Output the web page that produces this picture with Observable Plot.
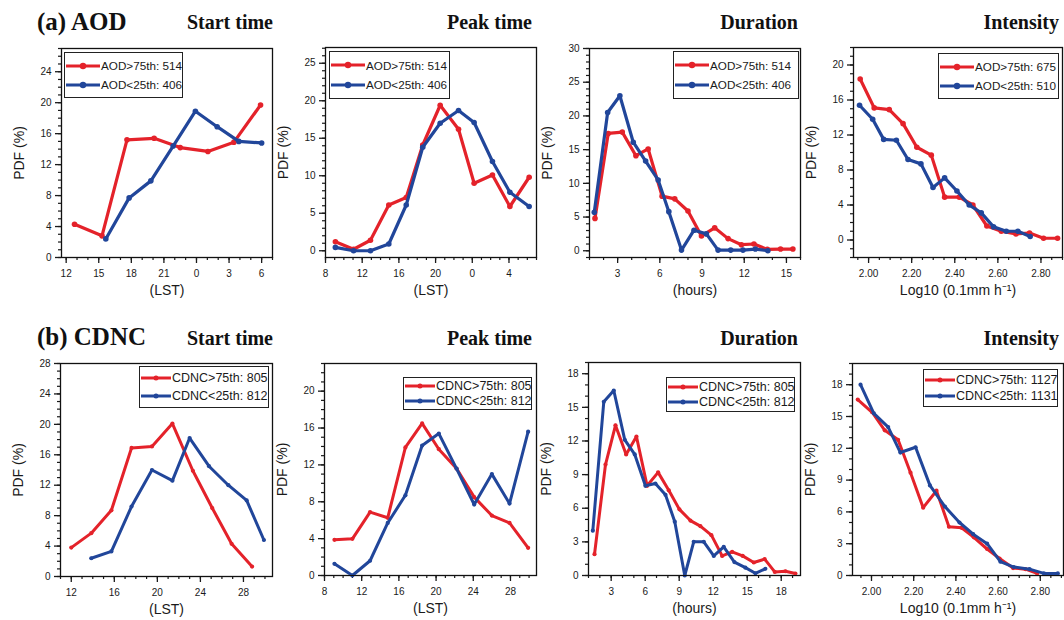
<!DOCTYPE html>
<html>
<head>
<meta charset="utf-8">
<script src="https://cdn.jsdelivr.net/npm/d3@7"></script>
<script src="https://cdn.jsdelivr.net/npm/@observablehq/plot@0.6"></script>
<style>
  body { margin: 0; background: #fff; }
  #chart { position: relative; width: 1064px; height: 620px; overflow: hidden; background: #fff;
           font-family: "Liberation Sans", Arial, sans-serif; }
  .panel { position: absolute; }
  .box { position: absolute; border: 1px solid #111; box-sizing: border-box; pointer-events: none; }
  .legend { position: absolute; border: 1px solid #222; background: #fff; box-sizing: border-box;
            display: flex; flex-direction: column; justify-content: space-evenly; color: #1a1a1a; }
  .legend .row { display: flex; align-items: center; white-space: nowrap; }
  .legend svg { display: block; flex: none; }
  .title { position: absolute; line-height: 1; white-space: nowrap; color: #111;
           font-family: "Liberation Serif", "Times New Roman", serif; font-weight: bold; }
</style>
</head>
<body>
<div id="chart"></div>
<script>
// ---------------- data ----------------
// (a) AOD — Start time (LST, hours continued past 24)
const aodStartHiX = [12.77, 15.3, 17.6, 20.1, 22.5, 25.05, 27.45, 29.9];
const aodStartHiY = [4.3, 2.8, 15.2, 15.4, 14.2, 13.7, 14.9, 19.7];
const aodStartLoX = [15.65, 17.8, 19.8, 21.85, 23.9, 25.9, 27.9, 30.0];
const aodStartLoY = [2.4, 7.7, 9.9, 14.4, 18.9, 16.9, 15.0, 14.8];
// (a) AOD — Peak time
const aodPeakX   = [9.08, 11.06, 12.9, 14.9, 16.8, 18.6, 20.5, 22.5, 24.2, 26.2, 28.1, 30.2];
const aodPeakHiY = [1.2, 0.2, 1.4, 6.1, 7.1, 14.1, 19.4, 16.2, 9.0, 10.1, 5.9, 9.8];
const aodPeakLoY = [0.45, 0, 0, 0.9, 6.1, 13.8, 17.0, 18.7, 17.1, 11.9, 7.8, 5.9];
// (a) AOD — Duration (hours)
const aodDurHiX = [1.39, 2.33, 3.33, 4.30, 5.17, 6.16, 7.06, 8.0, 8.96, 9.9, 10.85, 11.8, 12.69, 13.64, 14.58, 15.46];
const aodDurHiY = [4.8, 17.4, 17.6, 14.1, 15.1, 8.1, 7.7, 5.9, 2.2, 3.4, 1.8, 0.9, 1.0, 0.2, 0.25, 0.25];
const aodDurLoX = [1.34, 2.29, 3.16, 4.11, 4.99, 5.88, 6.64, 7.54, 8.43, 9.31, 10.14, 11.04, 11.91, 12.79, 13.68];
const aodDurLoY = [5.7, 20.5, 23.0, 16.1, 13.3, 10.5, 5.8, 0.1, 3.05, 2.5, 0.1, 0.1, 0.1, 0.25, 0];
// (a) AOD — Intensity (log10 0.1 mm/h)
const aodIntHiX = [1.961, 2.026, 2.096, 2.160, 2.224, 2.291, 2.353, 2.421, 2.484, 2.549, 2.616, 2.684, 2.747, 2.812, 2.877];
const aodIntHiY = [18.4, 15.1, 14.9, 13.3, 10.6, 9.7, 4.9, 4.9, 4.0, 1.6, 1.0, 0.7, 0.8, 0.2, 0.2];
const aodIntLoX = [1.958, 2.019, 2.070, 2.129, 2.183, 2.243, 2.299, 2.353, 2.410, 2.467, 2.523, 2.580, 2.639, 2.693, 2.750];
const aodIntLoY = [15.4, 13.8, 11.5, 11.4, 9.2, 8.7, 6.0, 7.1, 5.6, 4.0, 3.1, 1.5, 1.0, 1.0, 0.4];
// (b) CDNC — Start time
const cdncStartHiX = [12.0, 13.86, 15.73, 17.6, 19.5, 21.4, 23.3, 25.1, 26.9, 28.8];
const cdncStartHiY = [3.8, 5.7, 8.7, 16.9, 17.1, 20.1, 13.9, 9.0, 4.3, 1.3];
const cdncStartLoX = [13.86, 15.73, 17.6, 19.5, 21.4, 23.0, 24.8, 26.6, 28.3, 29.9];
const cdncStartLoY = [2.4, 3.3, 9.2, 14.0, 12.6, 18.2, 14.5, 12.0, 10.0, 4.8];
// (b) CDNC — Peak time
const cdncPeakX   = [9.07, 11.0, 12.9, 14.8, 16.7, 18.5, 20.3, 22.2, 24.1, 26.0, 27.9, 29.9];
const cdncPeakHiY = [3.87, 3.98, 6.87, 6.26, 13.9, 16.5, 13.7, 11.6, 8.5, 6.5, 5.7, 3.0];
const cdncPeakLoY = [1.27, 0, 1.6, 5.7, 8.7, 14.1, 15.4, 11.6, 7.7, 11.0, 7.8, 15.6];
// (b) CDNC — Duration
const cdncDurHiX = [1.53, 2.5, 3.38, 4.32, 5.23, 6.17, 7.14, 8.08, 9.02, 9.99, 10.87, 11.84, 12.79, 13.67, 14.6, 15.58, 16.54, 17.43, 18.37, 19.25];
const cdncDurHiY = [1.9, 9.9, 13.4, 10.8, 12.4, 8.0, 9.2, 7.6, 5.9, 4.9, 4.4, 3.6, 1.75, 2.1, 1.75, 1.16, 1.46, 0.32, 0.38, 0.18];
const cdncDurLoX = [1.38, 2.35, 3.23, 4.2, 5.08, 6.02, 6.9, 7.79, 8.61, 9.49, 10.28, 11.17, 12.05, 12.93, 13.87, 14.84, 15.72, 16.6];
const cdncDurLoY = [4.0, 15.5, 16.5, 12.1, 10.8, 8.0, 8.2, 7.2, 4.8, 0, 3.0, 3.0, 1.75, 2.56, 1.2, 0.7, 0.2, 0.6];
// (b) CDNC — Intensity
const cdncIntHiX = [1.935, 2.003, 2.063, 2.126, 2.185, 2.245, 2.308, 2.367, 2.427, 2.485, 2.548, 2.607, 2.671, 2.730, 2.785];
const cdncIntHiY = [16.6, 15.4, 13.7, 12.8, 9.7, 6.4, 8.0, 4.6, 4.5, 3.6, 2.5, 1.6, 0.7, 0.6, 0.2];
const cdncIntLoX = [1.948, 2.011, 2.079, 2.137, 2.209, 2.277, 2.348, 2.417, 2.482, 2.548, 2.611, 2.674, 2.749, 2.817, 2.883];
const cdncIntLoY = [18.0, 15.3, 14.0, 11.6, 12.1, 8.5, 6.5, 5.0, 3.9, 3.0, 1.3, 0.8, 0.6, 0.2, 0.2];

// tick values and labels
const lstTicksA   = [12, 15, 18, 21, 24, 27, 30];
const peakTicks   = [8, 12, 16, 20, 24, 28];
const durTicksA   = [3, 6, 9, 12, 15];
const durTicksB   = [3, 6, 9, 12, 15, 18];
const intTicks    = [2.0, 2.2, 2.4, 2.6, 2.8];
const lstTicksB   = [12, 16, 20, 24, 28];
const yTicks4     = [0, 4, 8, 12, 16, 20, 24, 28];
const yTicks5     = [0, 5, 10, 15, 20, 25, 30];
const yTicks3     = [0, 3, 6, 9, 12, 15, 18];

// text
const rowTitles   = ["(a) AOD", "(b) CDNC"];
const colTitles   = ["Start time", "Peak time", "Duration", "Intensity"];
const xLabels     = ["(LST)", "(LST)", "(hours)", "Log10 (0.1mm h\u207B\u00B9)"];
const yLabel      = "PDF (%)";
const legAodA     = ["AOD>75th: 514", "AOD<25th: 406"];
const legAodB     = ["AOD>75th: 675", "AOD<25th: 510"];
const legCdncA    = ["CDNC>75th: 805", "CDNC<25th: 812"];
const legCdncB    = ["CDNC>75th: 1127", "CDNC<25th: 1131"];

// ---------------- styling / layout ----------------
const RED = "#e4222a", BLUE = "#21469a";
const mod24 = d => String(d % 24);
const plain = d => String(d);
const fix2 = d3.format(".2f");

const panels = [
  { frame: [61, 48, 272, 257], xd: [11.57, 31], yd: [0, 27], xt: lstTicksA, xf: mod24, xm: 1, yt: yTicks4, xl: xLabels[0],
    hi: [aodStartHiX, aodStartHiY], lo: [aodStartLoX, aodStartLoY], leg: legAodA, box: [64, 52, 183, 98], row: 0 },
  { frame: [325, 47, 536, 257], xd: [8, 31], yd: [-0.9, 27.1], xt: peakTicks, xf: mod24, xm: 1, yt: yTicks5, xl: xLabels[1],
    hi: [aodPeakX, aodPeakHiY], lo: [aodPeakX, aodPeakLoY], leg: legAodA, box: [329, 51, 450, 99], row: 0 },
  { frame: [589, 48, 800, 257], xd: [1, 16], yd: [-1, 30], xt: durTicksA, xf: plain, xm: 1, yt: yTicks5, xl: xLabels[2],
    hi: [aodDurHiX, aodDurHiY], lo: [aodDurLoX, aodDurLoY], leg: legAodA, box: [673, 51, 799, 99], row: 0 },
  { frame: [853, 47, 1062, 257], xd: [1.93, 2.90], yd: [-2, 22], xt: intTicks, xf: fix2, xm: 0.05, yt: yTicks4, xl: xLabels[3],
    hi: [aodIntHiX, aodIntHiY], lo: [aodIntLoX, aodIntLoY], leg: legAodB, box: [938, 53, 1059, 99], row: 0 },
  { frame: [60, 363, 272, 576], xd: [11, 30.7], yd: [0, 28], xt: lstTicksB, xf: plain, xm: 1, yt: yTicks4, xl: xLabels[0],
    hi: [cdncStartHiX, cdncStartHiY], lo: [cdncStartLoX, cdncStartLoY], leg: legCdncA, box: [139, 366, 269, 408], row: 1 },
  { frame: [324, 363, 536, 575], xd: [8, 30.8], yd: [0, 23], xt: peakTicks, xf: plain, xm: 1, yt: yTicks4, xl: xLabels[1],
    hi: [cdncPeakX, cdncPeakHiY], lo: [cdncPeakX, cdncPeakLoY], leg: legCdncA, box: [403, 377, 532, 410], row: 1 },
  { frame: [588, 362, 800, 575], xd: [1, 19.7], yd: [0, 19], xt: durTicksB, xf: plain, xm: 1, yt: yTicks3, xl: xLabels[2],
    hi: [cdncDurHiX, cdncDurHiY], lo: [cdncDurLoX, cdncDurLoY], leg: legCdncA, box: [666, 377, 795, 412], row: 1 },
  { frame: [852, 363, 1063, 575], xd: [1.91, 2.91], yd: [0, 20], xt: intTicks, xf: fix2, xm: 0.05, yt: yTicks3, xl: xLabels[3],
    hi: [cdncIntHiX, cdncIntHiY], lo: [cdncIntLoX, cdncIntLoY], leg: legCdncB, box: [923, 369, 1058, 407], row: 1 }
];

const chart = document.getElementById("chart");
const mL = 70, mT = 10, mR = 6, mB = 52;

const inside = (vals, d) => vals.filter(v => v >= Math.min(...d) - 1e-9 && v <= Math.max(...d) + 1e-9);
function minorTicks(domain, step) {
  const a = Math.ceil(domain[0] / step - 1e-9), b = Math.floor(domain[1] / step + 1e-9);
  return d3.range(a, b + 1).map(i => +(i * step).toFixed(4));
}

// titles (HTML text, positioned by baseline)
function addTitle(text, size, baseline, opts) {
  const t = document.createElement("div");
  t.className = "title";
  t.textContent = text;
  t.style.fontSize = size + "px";
  t.style.top = (baseline - 0.8375 * size) + "px";
  if (opts.left != null) t.style.left = opts.left + "px";
  if (opts.right != null) t.style.right = (1064 - opts.right) + "px";
  chart.appendChild(t);
}
const colRight = [273, 532, 798, 1059];
[30, 345].forEach((base, i) => addTitle(rowTitles[i], 25, base, { left: 37 }));
[28.5, 345].forEach(base => colTitles.forEach((t, j) => addTitle(t, 20, base, { right: colRight[j] })));

panels.forEach(p => {
  const [L, T, R, B] = p.frame;
  const w = R - L + mL + mR, h = B - T + mT + mB;
  const toRows = ([xs, ys]) => xs.map((x, i) => ({ x, y: ys[i] }));
  const hi = toRows(p.hi), lo = toRows(p.lo);
  const lw = p.row === 0 ? 3.2 : 3;
  const r = p.row === 0 ? 2.8 : 2.1;
  const svg = Plot.plot({
    width: w, height: h, marginLeft: mL, marginTop: mT, marginRight: mR, marginBottom: mB,
    style: { fontFamily: "'Liberation Sans', Arial, sans-serif", fontSize: "10px", color: "#1a1a1a", overflow: "visible" },
    x: { domain: p.xd },
    y: { domain: p.yd },
    marks: [
      Plot.axisX(minorTicks(p.xd, p.xm), { tickSize: 3, strokeWidth: 1.2, tickFormat: () => "", label: null }),
      Plot.axisX(inside(p.xt, p.xd), { tickSize: 6, strokeWidth: 1.3, tickPadding: 6, tickFormat: p.xf, label: p.xl,
                         labelAnchor: "center", labelOffset: 37, labelArrow: "none" }),
      Plot.axisY(minorTicks(p.yd, 1), { tickSize: 3, strokeWidth: 1.2, tickFormat: () => "", label: null }),
      Plot.axisY(inside(p.yt, p.yd), { tickSize: 6, strokeWidth: 1.3, tickPadding: 4, tickFormat: plain, label: yLabel,
                         labelAnchor: "center", labelOffset: 47, labelArrow: "none" }),
      Plot.frame({ stroke: "#111", strokeWidth: 1.3 }),
      Plot.line(hi, { x: "x", y: "y", stroke: RED, strokeWidth: lw }),
      Plot.dot(hi, { x: "x", y: "y", fill: RED, r }),
      Plot.line(lo, { x: "x", y: "y", stroke: BLUE, strokeWidth: lw }),
      Plot.dot(lo, { x: "x", y: "y", fill: BLUE, r })
    ]
  });
  svg.querySelectorAll('[aria-label="x-axis label"], [aria-label="y-axis label"]').forEach(g => {
    g.setAttribute("font-size", "14");
  });
  const div = document.createElement("div");
  div.className = "panel";
  Object.assign(div.style, { left: (L - mL) + "px", top: (T - mT) + "px", width: w + "px", height: h + "px" });
  div.appendChild(svg);
  chart.appendChild(div);

  // plot-area outline (layout box matching the frame)
  const bx = document.createElement("div");
  bx.className = "box";
  Object.assign(bx.style, { left: L + "px", top: T + "px", width: (R - L + 1) + "px", height: (B - T + 1) + "px" });
  chart.appendChild(bx);

  // legend
  const [bl, bt, br, bb] = p.box;
  const lg = document.createElement("div");
  lg.className = "legend";
  Object.assign(lg.style, { left: bl + "px", top: bt + "px", width: (br - bl) + "px", height: (bb - bt) + "px",
                            fontSize: p.row === 0 ? "11.7px" : "12.5px" });
  const sw = p.row === 0 ? 34 : 30;
  [[RED, p.leg[0]], [BLUE, p.leg[1]]].forEach(([c, t]) => {
    const rowEl = document.createElement("div");
    rowEl.className = "row";
    const s = d3.create("svg").attr("width", sw + 2).attr("height", 10);
    s.append("line").attr("x1", 1).attr("x2", sw + 1).attr("y1", 5).attr("y2", 5)
      .attr("stroke", c).attr("stroke-width", lw);
    s.append("circle").attr("cx", 1 + sw / 2).attr("cy", 5).attr("r", r + 0.4).attr("fill", c);
    rowEl.appendChild(s.node());
    const span = document.createElement("span");
    span.textContent = t;
    rowEl.appendChild(span);
    lg.appendChild(rowEl);
  });
  chart.appendChild(lg);
});
</script>
</body>
</html>
